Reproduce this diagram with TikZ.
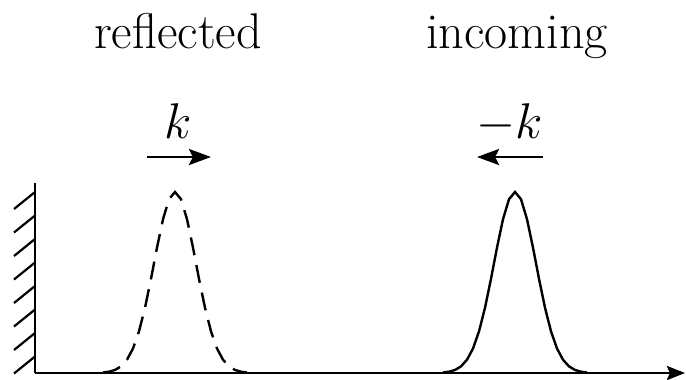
\documentclass[tikz,border=0pt]{standalone}
\usepackage{fix-cm}
\usepackage{fontspec}
\usetikzlibrary{arrows.meta}
\tikzset{
    lbl/.style={anchor=base, inner sep=0pt, font=\fontsize{25}{30}\selectfont},
    pulse/.style={line width=1.2pt},
    mom/.style={line width=1.3pt, -{Stealth[length=11pt,width=8pt,inset=2pt]}}
}
\begin{document}
\begin{tikzpicture}[x=0.0175cm, y=-0.0175cm]
        \useasboundingbox (0,0) rectangle (686,379);
        % labels
        \node[lbl] (refl) at (178,48) {reflected};
        \node[lbl] (inc) at (517,48) {incoming};
        \node[lbl] (kr) at (178,138) {$k$};
        \node[lbl] (ki) at (510,138) {$-k$};
        % momentum arrows
        \coordinate (ra) at (147,157); \coordinate (rb) at (211,157);
        \coordinate (ia) at (543,157); \coordinate (ib) at (477,157);
        \draw[mom] (ra) -- (rb);
        \draw[mom] (ia) -- (ib);
        % wall and axis
        \coordinate (top) at (35,183);
        \coordinate (orig) at (35,373);
        \coordinate (end) at (685,373);
        \draw[line width=1.4pt] (top) -- (orig);
        \draw[line width=1.3pt, -{Stealth[length=9pt,width=7pt,inset=1.5pt]}] (orig) -- (end);
        \foreach \h in {0,...,7}
            \draw[line width=1.1pt] (35,{192+23.5*\h}) -- ++(-21,17);
        % wave packets
        \draw[pulse, dash pattern=on 9pt off 5pt]
            plot[domain=-72:72, samples=25] ({175+\x},{373-181*exp(-\x*\x/(2*21*21))});
        \draw[pulse]
            plot[domain=-72:72, samples=25] ({515+\x},{373-181*exp(-\x*\x/(2*21*21))});
    \end{tikzpicture}
\end{document}
